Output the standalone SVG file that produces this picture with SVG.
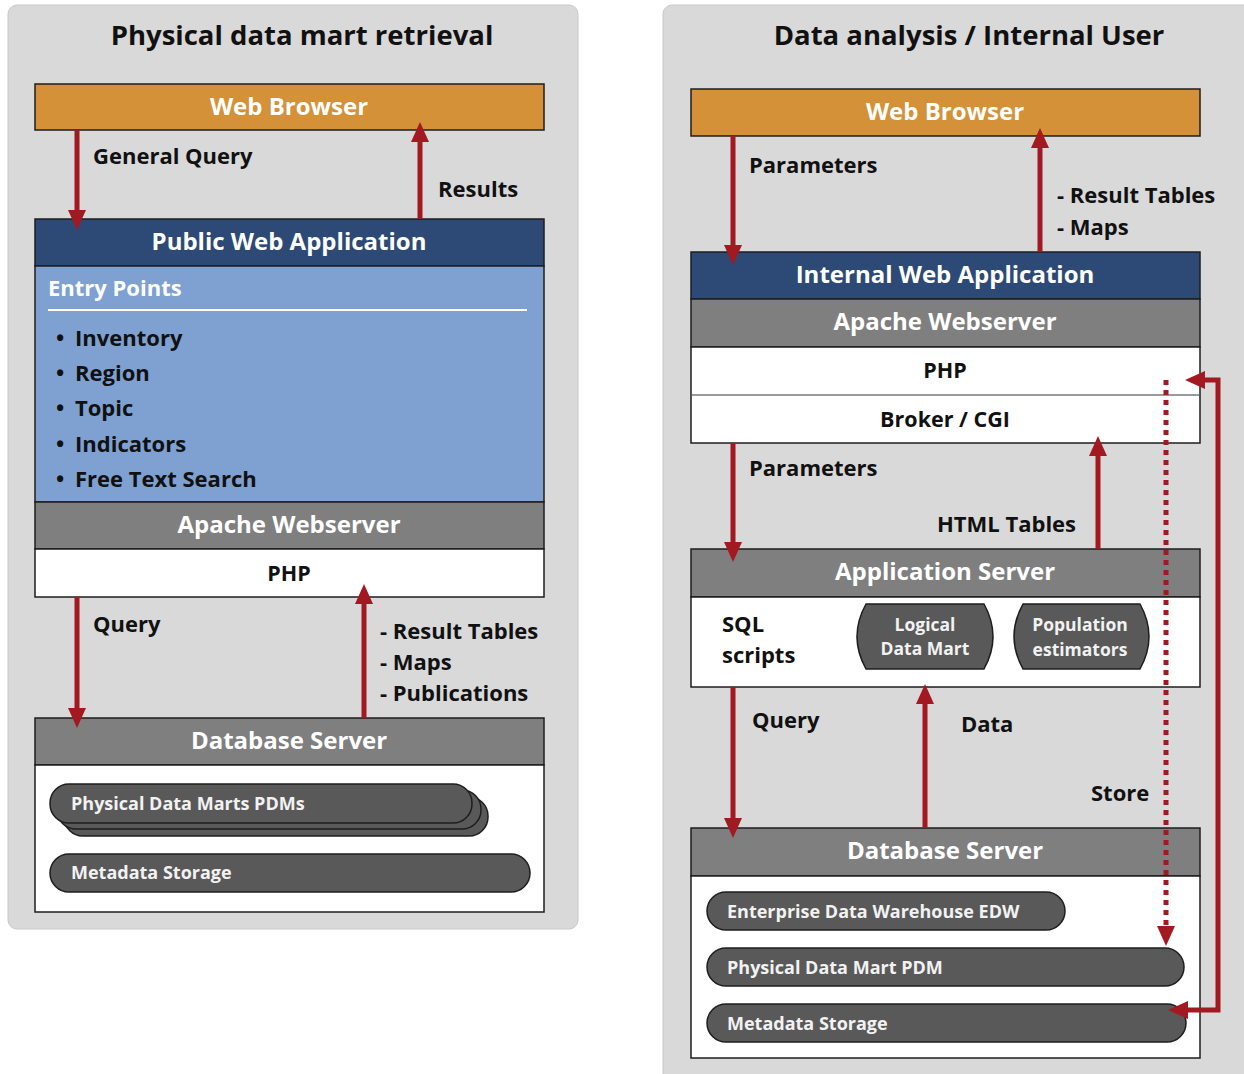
<svg xmlns="http://www.w3.org/2000/svg" width="1244" height="1074" viewBox="0 0 1244 1074">
  <defs>
    <style>
      text { font-family: "Open Sans", Lato, "Liberation Sans", sans-serif; font-weight: 700; }
      .panel { fill: #D9D9D9; stroke: #C8C8C8; stroke-width: 1; }
      .title { font-size: 27.5px; fill: #111; text-anchor: middle; }
      .box { stroke: #1E1E1E; stroke-width: 1.5; }
      .browser { fill: #D59137; }
      .app { fill: #2C4A75; }
      .grey { fill: #7F7F7F; }
      .white { fill: #FFFFFF; }
      .entry { fill: #7EA1D1; }
      .hd { font-size: 24px; fill: #FFFFFF; text-anchor: middle; }
      .hdk { font-size: 21.5px; fill: #111; text-anchor: middle; }
      .lbl { font-size: 22px; fill: #111; }
      .ep { font-size: 22px; fill: #FFFFFF; }
      .db { fill: #595959; stroke: #1E1E1E; stroke-width: 1.5; }
      .dbt { font-size: 18px; fill: #F2F2F2; }
      .dbc { font-size: 17.5px; fill: #F2F2F2; text-anchor: middle; }
      .flow { fill: none; stroke: #A31922; stroke-width: 5; }
      .dots { fill: none; stroke: #A31922; stroke-width: 5; stroke-dasharray: 5 5; }
    </style>
    <marker id="head" markerUnits="userSpaceOnUse" markerWidth="20" markerHeight="18" refX="14" refY="9" orient="auto">
      <path d="M0,0 L20,9 L0,18 Z" fill="#A31922"/>
    </marker>
    <marker id="headStart" markerUnits="userSpaceOnUse" markerWidth="20" markerHeight="18" refX="14" refY="9" orient="auto-start-reverse">
      <path d="M0,0 L20,9 L0,18 Z" fill="#A31922"/>
    </marker>
  </defs>

  <!-- panel backgrounds -->
  <rect class="panel" x="8" y="5" width="570" height="924" rx="9"/>
  <rect class="panel" x="663" y="5" width="600" height="1100" rx="9"/>
  <text class="title" x="302" y="45">Physical data mart retrieval</text>
  <text class="title" x="969" y="45">Data analysis / Internal User</text>

  <!-- ===== left column: public retrieval ===== -->
  <g id="l-browser">
    <rect class="box browser" x="35" y="84" width="509" height="46"/>
    <text class="hd" x="289" y="115">Web Browser</text>
  </g>

  <g id="l-webapp">
    <rect class="box app" x="35" y="219" width="509" height="47"/>
    <text class="hd" x="289" y="250">Public Web Application</text>
    <rect class="box entry" x="35" y="266" width="509" height="236"/>
    <text class="ep" x="48" y="296">Entry Points</text>
    <line x1="48" y1="310" x2="527" y2="310" stroke="#FFFFFF" stroke-width="2"/>
    <g class="lbl">
      <text class="lbl" x="56" y="346">•</text>
      <text class="lbl" x="75" y="346">Inventory</text>
      <text class="lbl" x="56" y="381">•</text>
      <text class="lbl" x="75" y="381">Region</text>
      <text class="lbl" x="56" y="416">•</text>
      <text class="lbl" x="75" y="416">Topic</text>
      <text class="lbl" x="56" y="452">•</text>
      <text class="lbl" x="75" y="452">Indicators</text>
      <text class="lbl" x="56" y="487">•</text>
      <text class="lbl" x="75" y="487">Free Text Search</text>
    </g>
  </g>

  <g id="l-apache">
    <rect class="box grey" x="35" y="502" width="509" height="47"/>
    <text class="hd" x="289" y="533">Apache Webserver</text>
    <rect class="box white" x="35" y="549" width="509" height="48"/>
    <text class="hdk" x="289" y="581">PHP</text>
  </g>

  <g id="l-database">
    <rect class="box grey" x="35" y="718" width="509" height="47"/>
    <text class="hd" x="289" y="749">Database Server</text>
    <rect class="box white" x="35" y="765" width="509" height="147"/>
    <!-- stacked data marts -->
    <rect class="db" x="64" y="797" width="424" height="39" rx="19" ry="19"/>
    <rect class="db" x="57" y="790" width="424" height="39" rx="19" ry="19"/>
    <rect class="db" x="50" y="784" width="422" height="39" rx="19" ry="19"/>
    <text class="dbt" x="71" y="810">Physical Data Marts PDMs</text>
    <rect class="db" x="50" y="854" width="480" height="38" rx="19" ry="19"/>
    <text class="dbt" x="71" y="879">Metadata Storage</text>
  </g>

  <!-- ===== right column: internal analysis ===== -->
  <g id="r-browser">
    <rect class="box browser" x="691" y="89" width="509" height="47"/>
    <text class="hd" x="945" y="120">Web Browser</text>
  </g>

  <g id="r-webapp">
    <rect class="box app" x="691" y="252" width="509" height="47"/>
    <text class="hd" x="945" y="283">Internal Web Application</text>
    <rect class="box grey" x="691" y="299" width="509" height="48"/>
    <text class="hd" x="945" y="330">Apache Webserver</text>
    <rect class="box white" x="691" y="347" width="509" height="96"/>
    <line x1="692" y1="395" x2="1199" y2="395" stroke="#9A9A9A" stroke-width="2"/>
    <text class="hdk" x="945" y="378">PHP</text>
    <text class="hdk" x="945" y="427">Broker / CGI</text>
  </g>

  <g id="r-appserver">
    <rect class="box grey" x="691" y="549" width="509" height="48"/>
    <text class="hd" x="945" y="580">Application Server</text>
    <rect class="box white" x="691" y="597" width="509" height="90"/>
    <text class="lbl" x="722" y="632">SQL</text>
    <text class="lbl" x="722" y="663">scripts</text>
    <path class="db" d="M866,604 H984 Q1002,636.5 984,669 H866 Q848,636.5 866,604 Z"/>
    <text class="dbc" x="925" y="631">Logical</text>
    <text class="dbc" x="925" y="655">Data Mart</text>
    <path class="db" d="M1023,604 H1140 Q1158,636.5 1140,669 H1023 Q1005,636.5 1023,604 Z"/>
    <text class="dbc" x="1080" y="631">Population</text>
    <text class="dbc" x="1080" y="656">estimators</text>
  </g>

  <g id="r-database">
    <rect class="box grey" x="691" y="828" width="509" height="48"/>
    <text class="hd" x="945" y="859">Database Server</text>
    <rect class="box white" x="691" y="876" width="509" height="182"/>
    <rect class="db" x="707" y="892" width="358" height="38" rx="19" ry="19"/>
    <text class="dbt" x="727" y="918">Enterprise Data Warehouse EDW</text>
    <rect class="db" x="707" y="948" width="477" height="38" rx="19" ry="19"/>
    <text class="dbt" x="727" y="974">Physical Data Mart PDM</text>
    <rect class="db" x="707" y="1004" width="479" height="38" rx="19" ry="19"/>
    <text class="dbt" x="727" y="1030">Metadata Storage</text>
  </g>

  <!-- ===== connectors ===== -->
  <g id="connectors">
    <!-- left column -->
    <path class="flow" d="M77,130 V224" marker-end="url(#head)"/>
    <path class="flow" d="M420,219 V128" marker-end="url(#head)"/>
    <path class="flow" d="M77,597 V722" marker-end="url(#head)"/>
    <path class="flow" d="M364,718 V590" marker-end="url(#head)"/>
    <!-- right column -->
    <path class="flow" d="M733,136 V259" marker-end="url(#head)"/>
    <path class="flow" d="M1040,252 V134" marker-end="url(#head)"/>
    <path class="flow" d="M733,443 V556" marker-end="url(#head)"/>
    <path class="flow" d="M1098,549 V442" marker-end="url(#head)"/>
    <path class="flow" d="M733,687 V832" marker-end="url(#head)"/>
    <path class="flow" d="M925,828 V690" marker-end="url(#head)"/>
    <path class="dots" d="M1166,380 V940" marker-end="url(#head)"/>
    <path class="flow" d="M1174,1010 H1218 V380 H1191" marker-start="url(#headStart)" marker-end="url(#head)"/>
  </g>

  <!-- connector labels -->
  <g id="labels">
    <text class="lbl" x="93" y="164">General Query</text>
    <text class="lbl" x="438" y="197">Results</text>
    <text class="lbl" x="93" y="632">Query</text>
    <text class="lbl" x="380" y="639">- Result Tables</text>
    <text class="lbl" x="380" y="670">- Maps</text>
    <text class="lbl" x="380" y="701">- Publications</text>
    <text class="lbl" x="749" y="173">Parameters</text>
    <text class="lbl" x="1057" y="203">- Result Tables</text>
    <text class="lbl" x="1057" y="235">- Maps</text>
    <text class="lbl" x="749" y="476">Parameters</text>
    <text class="lbl" x="937" y="532">HTML Tables</text>
    <text class="lbl" x="752" y="728">Query</text>
    <text class="lbl" x="961" y="732">Data</text>
    <text class="lbl" x="1091" y="801">Store</text>
  </g>
</svg>
